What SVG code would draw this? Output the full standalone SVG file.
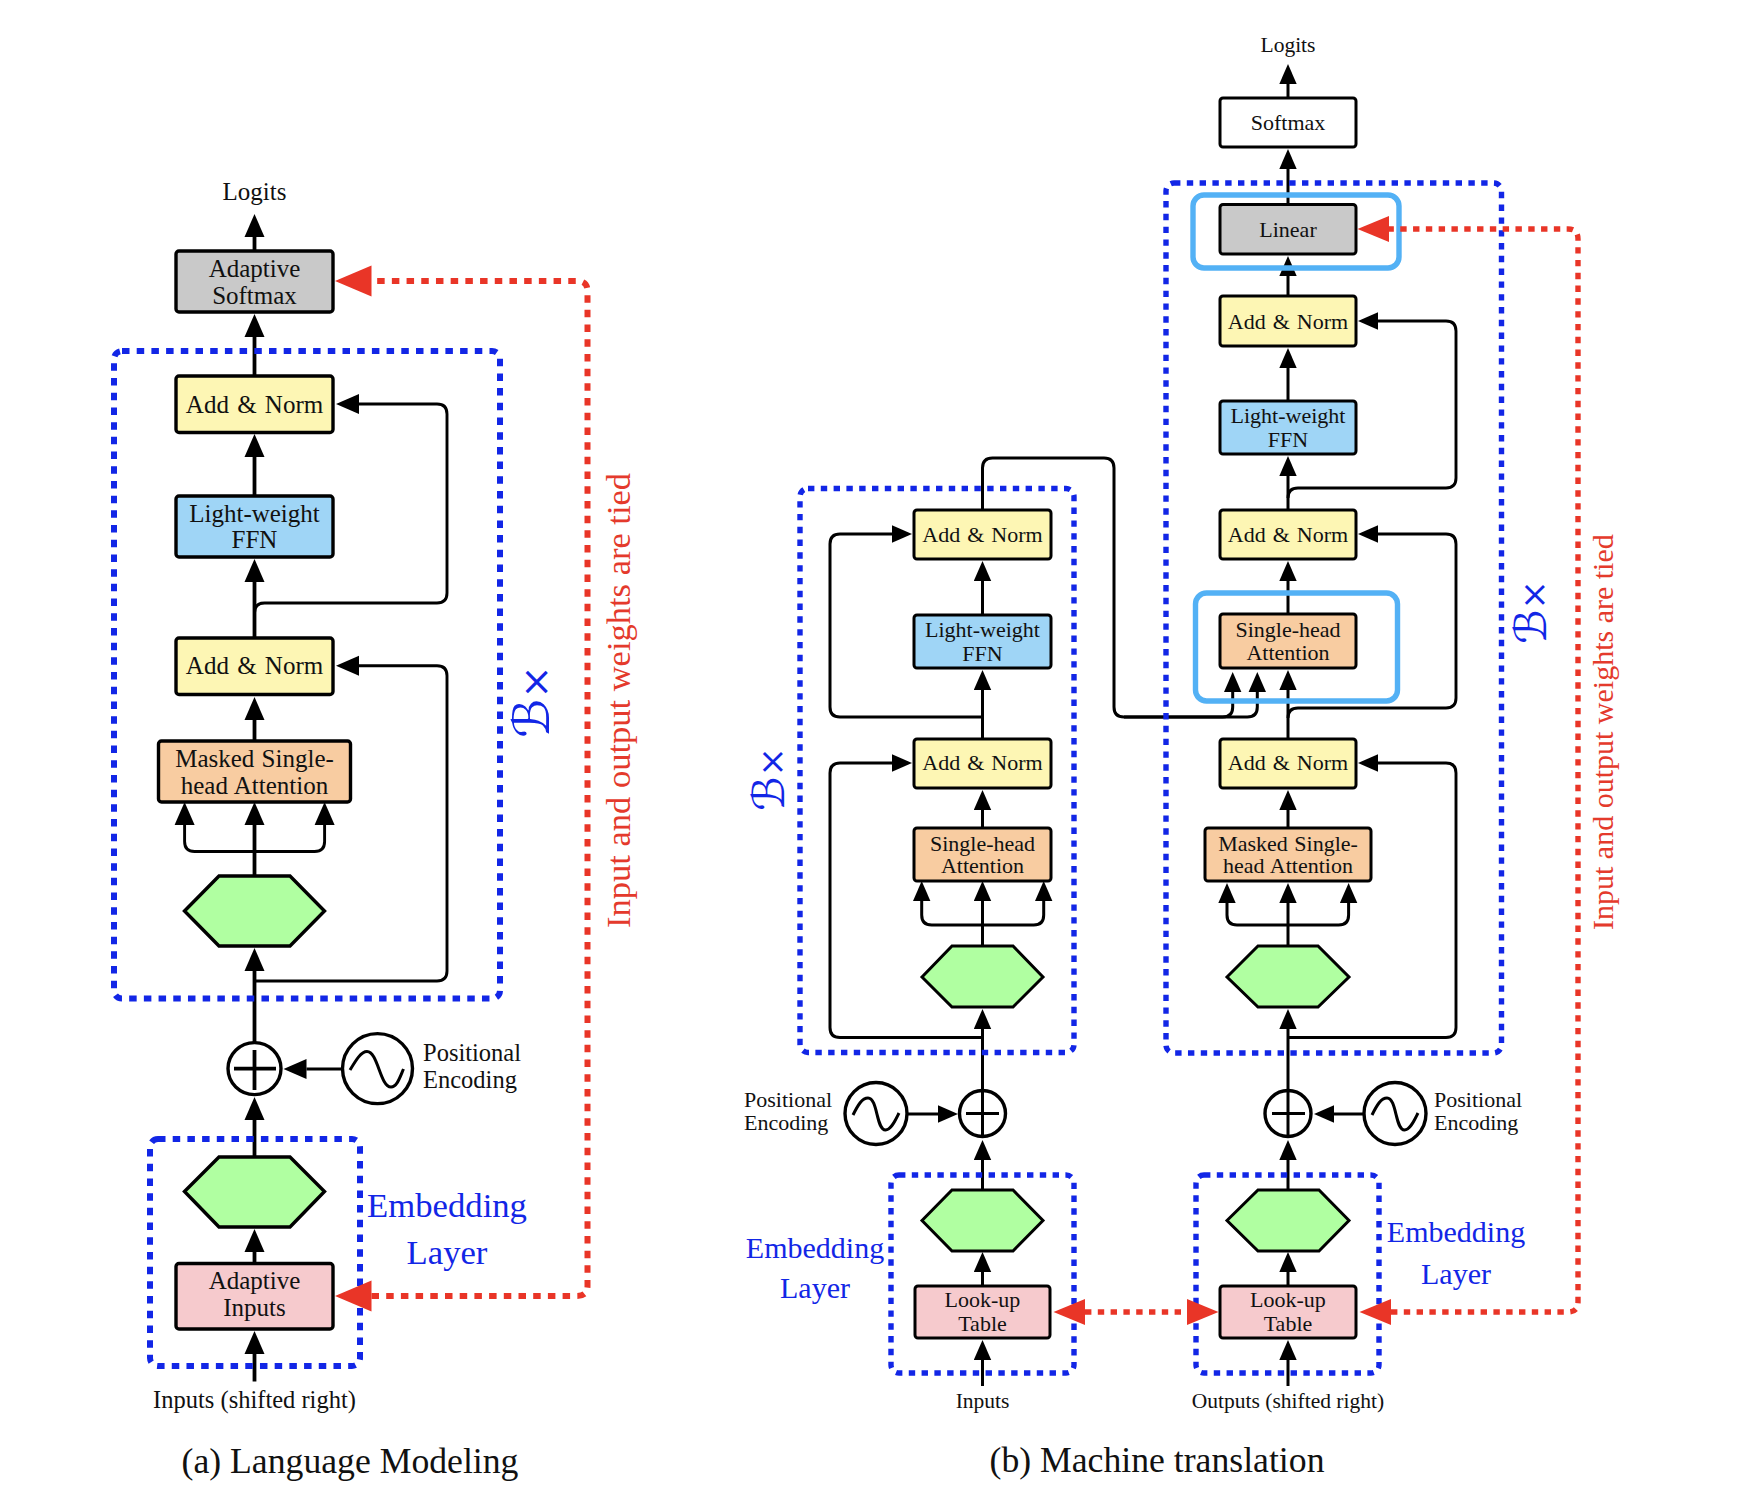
<svg xmlns="http://www.w3.org/2000/svg" width="1750" height="1498" viewBox="0 0 1750 1498">
<style>
text{font-family:"Liberation Serif","DejaVu Serif",serif;fill:#111;text-anchor:middle}
.t25{font-size:25px}.t21{font-size:22px}.t21s{font-size:21.5px}.t24{font-size:24.5px}
.cap{font-size:35.7px}
.blue{fill:#1226e6;font-size:34.7px}.blue2{fill:#1226e6;font-size:30px}
.red{fill:#e43a2c;font-size:34.5px;text-anchor:start}.red2{fill:#e43a2c;font-size:30px;text-anchor:start}
.bx{fill:#1226e6;font-family:"DejaVu Serif","DejaVu Sans",serif;text-anchor:start;font-style:italic}
.l{fill:none;stroke:#000;stroke-width:3.8}
.f{fill:none;stroke:#000;stroke-width:2.9}
.r{fill:none;stroke:#000;stroke-width:3}
.al{marker-end:url(#ahL)}.ar{marker-end:url(#ahR)}
.n rect,.n polygon{stroke:#000;stroke-width:3.4}
.m rect,.m polygon{stroke:#000;stroke-width:3}
.y{fill:#fdf6b4}.b{fill:#9fd5f6}.o{fill:#f8cca1}.p{fill:#f6cacd}.g{fill:#b0ffa1}.k{fill:#c9c9c9}.w{fill:#fff}
.c{fill:#fff;stroke:#000;stroke-width:3.4}
.d{fill:none;stroke:#1226e6;stroke-width:6;stroke-dasharray:7.5 7.2}
.d2{fill:none;stroke:#1226e6;stroke-width:5.4;stroke-dasharray:6.4 6.4}
.cy{fill:none;stroke:#53b1f5;stroke-width:5.4}
.dr{fill:none;stroke:#e93527;stroke-width:6;stroke-dasharray:7.5 7.2;marker-start:url(#rhL);marker-end:url(#rhL)}
.dr3{fill:none;stroke:#e93527;stroke-width:5.4;stroke-dasharray:6.4 6.4;marker-start:url(#rhR);marker-end:url(#rhR)}
</style>
<defs>
<marker id="ahL" markerUnits="userSpaceOnUse" markerWidth="24" markerHeight="22" refX="0" refY="10.5" orient="auto"><path d="M0 0.5L23 10.5L0 20.5Z" fill="#000"/></marker>
<marker id="ahR" markerUnits="userSpaceOnUse" markerWidth="21" markerHeight="18" refX="0" refY="9" orient="auto"><path d="M0 0.3L20 9L0 17.7Z" fill="#000"/></marker>
<marker id="rhL" markerUnits="userSpaceOnUse" markerWidth="37" markerHeight="32" refX="0" refY="16" orient="auto-start-reverse"><path d="M0 0.5L36.500 16L0 31.500Z" fill="#e93527"/></marker>
<marker id="rhR" markerUnits="userSpaceOnUse" markerWidth="32" markerHeight="28" refX="0" refY="14" orient="auto-start-reverse"><path d="M0 1L31.500 14L0 27Z" fill="#e93527"/></marker>
</defs>

<g id="connectors">
<path class="l al" d="M254.500 252V237"/>
<path class="l al" d="M254.500 378V337"/>
<path class="l al" d="M254.500 497V457"/>
<path class="l al" d="M254.500 640V582"/>
<path class="l al" d="M254.500 743V720"/>
<path class="f al" d="M254.500 625V613Q254.500 603 264.500 603H437Q447 603 447 593V414Q447 404 437 404H359"/>
<path class="f al" d="M254.500 981H437Q447 981 447 971V675.700Q447 665.700 437 665.700H359"/>
<path class="l al" d="M254.500 878V825"/>
<path class="f al" d="M254.500 851.500H194.600Q184.600 851.500 184.600 841.500V825"/>
<path class="f al" d="M254.500 851.500H314.600Q324.600 851.500 324.600 841.500V825"/>
<path class="l al" d="M254.500 1044V971"/>
<path class="f al" d="M343 1069H306.500"/>
<path class="l al" d="M254.500 1158V1120"/>
<path class="l al" d="M254.500 1265V1252"/>
<path class="l al" d="M254.500 1381.500V1354"/>

<path class="r ar" d="M982.500 616V581"/>
<path class="r ar" d="M982.500 740V690"/>
<path class="r ar" d="M982.500 829V810"/>
<path class="r ar" d="M982.500 510V468Q982.500 458 992.500 458H1104Q1114 458 1114 468V707Q1114 717 1124 717H1222.700Q1232.700 717 1232.700 707V692"/>
<path class="r ar" d="M1124 717H1247.300Q1257.300 717 1257.300 707V692"/>
<path class="r ar" d="M982.500 717H840Q830 717 830 707V544Q830 534 840 534H892"/>
<path class="r ar" d="M982.500 1037.500H840Q830 1037.500 830 1027.500V773Q830 763 840 763H892"/>
<path class="r ar" d="M982.500 947V901"/>
<path class="r ar" d="M982.500 925H931.700Q921.700 925 921.700 915V901"/>
<path class="r ar" d="M982.500 925H1033.700Q1043.700 925 1043.700 915V901"/>
<path class="r ar" d="M982.500 1092V1029"/>
<path class="r ar" d="M907 1114H938"/>
<path class="r ar" d="M982.500 1191V1160"/>
<path class="r ar" d="M982.500 1287V1272"/>
<path class="r ar" d="M982.500 1386V1360"/>

<path class="r ar" d="M1288 98V84"/>
<path class="r ar" d="M1288 205V169"/>
<path class="r ar" d="M1288 297V276"/>
<path class="r ar" d="M1288 402V368"/>
<path class="r ar" d="M1288 511V476"/>
<path class="r ar" d="M1288 615V581"/>
<path class="r ar" d="M1288 740V690"/>
<path class="f ar" d="M1288 498Q1288 488 1298 488H1446Q1456 488 1456 478V331Q1456 321 1446 321H1378"/>
<path class="f ar" d="M1288 718Q1288 708 1298 708H1446Q1456 708 1456 698V544Q1456 534 1446 534H1378"/>
<path class="f ar" d="M1288 1037.500H1446Q1456 1037.500 1456 1027.500V773Q1456 763 1446 763H1378"/>
<path class="r ar" d="M1288 829V810"/>
<path class="r ar" d="M1288 947V903"/>
<path class="r ar" d="M1288 925H1237Q1227 925 1227 915V903"/>
<path class="r ar" d="M1288 925H1338.600Q1348.600 925 1348.600 915V903"/>
<path class="r ar" d="M1288 1092V1029"/>
<path class="r ar" d="M1365 1114H1334"/>
<path class="r ar" d="M1288 1191V1160"/>
<path class="r ar" d="M1288 1287V1272"/>
<path class="r ar" d="M1288 1386V1360"/>
</g>

<g id="panel-a-nodes">
<g id="a-softmax" class="n"><rect class="k" x="176" y="251" width="157" height="61" rx="3"/><text class="t25" x="254.500" y="277">Adaptive</text><text class="t25" x="254.500" y="304">Softmax</text></g>
<g id="a-addnorm2" class="n"><rect class="y" x="176" y="376" width="157" height="56.500" rx="3"/><text class="t25" x="254.500" y="412.500" word-spacing="2">Add &amp; Norm</text></g>
<g id="a-ffn" class="n"><rect class="b" x="176" y="496" width="157" height="61" rx="3"/><text class="t25" x="254.500" y="522">Light-weight</text><text class="t25" x="254.500" y="548">FFN</text></g>
<g id="a-addnorm1" class="n"><rect class="y" x="176" y="638" width="157" height="56.500" rx="3"/><text class="t25" x="254.500" y="674" word-spacing="2">Add &amp; Norm</text></g>
<g id="a-attention" class="n"><rect class="o" x="158.500" y="741" width="192" height="61" rx="3"/><text class="t25" x="254.500" y="767" word-spacing="1">Masked Single-</text><text class="t25" x="254.500" y="794" word-spacing="1">head Attention</text></g>
<g id="a-hex1" class="n"><polygon class="g" points="184.500,911 219,876 290,876 324.500,911 290,946 219,946"/></g>
<g id="a-plus"><ellipse class="c" cx="254.500" cy="1068.600" rx="26.500" ry="26"/><path class="l" d="M234 1068.600H276M254.500 1050V1090"/></g>
<g id="a-pos"><circle class="c" cx="377.500" cy="1068.600" r="35"/><path fill="none" stroke="#000" stroke-width="3" d="M350 1070C356 1060 361 1051.500 367 1051.500C378 1051.500 380 1087 391 1087C397 1087 400 1077 403.500 1069"/><text class="t24" x="423" y="1061" style="text-anchor:start">Positional</text><text class="t24" x="423" y="1088" style="text-anchor:start">Encoding</text></g>
<g id="a-hex2" class="n"><polygon class="g" points="184.500,1191.500 219,1157 290,1157 324.500,1191.500 290,1227 219,1227"/></g>
<g id="a-inputs" class="n"><rect class="p" x="176" y="1263.500" width="157" height="65.500" rx="3"/><text class="t25" x="254.500" y="1288.500">Adaptive</text><text class="t25" x="254.500" y="1316">Inputs</text></g>
<g id="a-labels"><text class="t25" x="254.500" y="200">Logits</text><text class="t24" x="254.500" y="1408">Inputs (shifted right)</text><text class="cap" x="350" y="1472.500">(a) Language Modeling</text></g>
</g>

<g id="panel-b-nodes">
<g id="e-addnorm2" class="m"><rect class="y" x="914" y="510" width="137" height="49" rx="3"/><text class="t21" x="982.500" y="542" word-spacing="1.500">Add &amp; Norm</text></g>
<g id="e-ffn" class="m"><rect class="b" x="914" y="615" width="137" height="53" rx="3"/><text class="t21" x="982.500" y="637">Light-weight</text><text class="t21" x="982.500" y="660.500">FFN</text></g>
<g id="e-addnorm1" class="m"><rect class="y" x="914" y="739" width="137" height="49" rx="3"/><text class="t21" x="982.500" y="770" word-spacing="1.500">Add &amp; Norm</text></g>
<g id="e-attention" class="m"><rect class="o" x="914" y="828" width="137" height="53" rx="3"/><text class="t21" x="982.500" y="850.500">Single-head</text><text class="t21" x="982.500" y="873">Attention</text></g>
<g id="e-hex1" class="m"><polygon class="g" points="922,977 952,946 1013,946 1043,977 1013,1007 952,1007"/></g>
<g id="e-plus"><circle class="c" cx="982.500" cy="1113.500" r="23"/><path class="r" d="M966 1113.500H999M982.500 1092V1136"/></g>
<g id="e-pos"><circle class="c" cx="876" cy="1113.500" r="31"/><path fill="none" stroke="#000" stroke-width="3" d="M853 1115C858 1105 862 1098 868 1098C878 1098 876 1130 885.500 1130C891 1130 895 1121 899 1113"/><text class="t21" x="744" y="1107" style="text-anchor:start">Positional</text><text class="t21" x="744" y="1130" style="text-anchor:start">Encoding</text></g>
<g id="e-hex2" class="m"><polygon class="g" points="922,1220.500 952,1190 1013,1190 1043,1220.500 1013,1251 952,1251"/></g>
<g id="e-lookup" class="m"><rect class="p" x="915" y="1286" width="135" height="52" rx="3"/><text class="t21" x="982.500" y="1307">Look-up</text><text class="t21" x="982.500" y="1331">Table</text></g>

<g id="d-softmax" class="m"><rect class="w" x="1220" y="98" width="136" height="49" rx="3"/><text class="t21" x="1288" y="130">Softmax</text></g>
<g id="d-linear" class="m"><rect class="k" x="1220" y="204.500" width="136" height="49.500" rx="3"/><text class="t21" x="1288" y="237">Linear</text></g>
<g id="d-addnorm3" class="m"><rect class="y" x="1220" y="296" width="136" height="50" rx="3"/><text class="t21" x="1288" y="328.500" word-spacing="1.500">Add &amp; Norm</text></g>
<g id="d-ffn" class="m"><rect class="b" x="1220" y="401" width="136" height="53" rx="3"/><text class="t21" x="1288" y="423">Light-weight</text><text class="t21" x="1288" y="446.500">FFN</text></g>
<g id="d-addnorm2" class="m"><rect class="y" x="1220" y="510" width="136" height="49" rx="3"/><text class="t21" x="1288" y="542" word-spacing="1.500">Add &amp; Norm</text></g>
<g id="d-crossattn" class="m"><rect class="o" x="1220" y="614" width="136" height="54" rx="3"/><text class="t21" x="1288" y="636.500">Single-head</text><text class="t21" x="1288" y="660">Attention</text></g>
<g id="d-addnorm1" class="m"><rect class="y" x="1220" y="739" width="136" height="49" rx="3"/><text class="t21" x="1288" y="770" word-spacing="1.500">Add &amp; Norm</text></g>
<g id="d-attention" class="m"><rect class="o" x="1205" y="828" width="166" height="53" rx="3"/><text class="t21" x="1288" y="851" word-spacing="1">Masked Single-</text><text class="t21" x="1288" y="873" word-spacing="1">head Attention</text></g>
<g id="d-hex1" class="m"><polygon class="g" points="1227,977 1258,946 1318,946 1349,977 1318,1007 1258,1007"/></g>
<g id="d-plus"><circle class="c" cx="1288" cy="1113.500" r="23"/><path class="r" d="M1272 1113.500H1305M1288 1092V1136"/></g>
<g id="d-pos"><circle class="c" cx="1395" cy="1113.500" r="31"/><path fill="none" stroke="#000" stroke-width="3" d="M1372 1115C1377 1105 1381 1098 1387 1098C1397 1098 1395 1130 1404.500 1130C1410 1130 1414 1121 1418 1113"/><text class="t21" x="1434" y="1107" style="text-anchor:start">Positional</text><text class="t21" x="1434" y="1130" style="text-anchor:start">Encoding</text></g>
<g id="d-hex2" class="m"><polygon class="g" points="1227,1220.500 1258,1190 1319,1190 1349,1220.500 1319,1251 1258,1251"/></g>
<g id="d-lookup" class="m"><rect class="p" x="1220" y="1286" width="136" height="52" rx="3"/><text class="t21" x="1288" y="1307">Look-up</text><text class="t21" x="1288" y="1331">Table</text></g>
<g id="b-labels"><text class="t21s" x="1288" y="52">Logits</text><text class="t21s" x="982.500" y="1408">Inputs</text><text class="t21s" x="1288" y="1408">Outputs (shifted right)</text><text class="cap" x="1157" y="1472">(b) Machine translation</text></g>
</g>

<g id="frames">
<rect class="d" x="114" y="351" width="386" height="647.500" rx="8"/>
<rect class="d" x="150" y="1139" width="210" height="227" rx="8"/>
<rect class="d2" x="800" y="488.500" width="274" height="564" rx="8"/>
<rect class="d2" x="1166" y="183" width="335.500" height="870" rx="8"/>
<rect class="d2" x="891" y="1175" width="183" height="198" rx="8"/>
<rect class="d2" x="1196" y="1175" width="183" height="198" rx="8"/>
<rect class="cy" x="1193" y="195" width="206" height="73" rx="11"/>
<rect class="cy" x="1195.500" y="593" width="202" height="108" rx="11"/>
</g>

<g id="frame-labels">
<text class="blue" x="447" y="1217">Embedding</text><text class="blue" x="447" y="1264">Layer</text>
<text class="blue2" x="815" y="1258">Embedding</text><text class="blue2" x="815" y="1297.500">Layer</text>
<text class="blue2" x="1456" y="1242">Embedding</text><text class="blue2" x="1456" y="1284">Layer</text>
<text class="bx" transform="translate(549 738) rotate(-90)"><tspan font-size="50">ℬ</tspan><tspan font-size="40">×</tspan></text>
<text class="bx" transform="translate(784 811) rotate(-90)"><tspan font-size="44">ℬ</tspan><tspan font-size="35">×</tspan></text>
<text class="bx" transform="translate(1546 644) rotate(-90)"><tspan font-size="44">ℬ</tspan><tspan font-size="35">×</tspan></text>
<text class="red" transform="translate(630 928) rotate(-90)">Input and output weights are tied</text>
<text class="red2" transform="translate(1613 930) rotate(-90)">Input and output weights are tied</text>
</g>

<g id="tied-weight-connectors">
<path class="dr" d="M371.500 1296H577Q587.500 1296 587.500 1286V291Q587.500 281 577 281H371.500"/>
<path class="dr3" d="M1391 1312H1568Q1578 1312 1578 1302V239Q1578 229 1568 229H1389"/>
<path class="dr3" d="M1085 1312H1187"/>
</g>
</svg>
